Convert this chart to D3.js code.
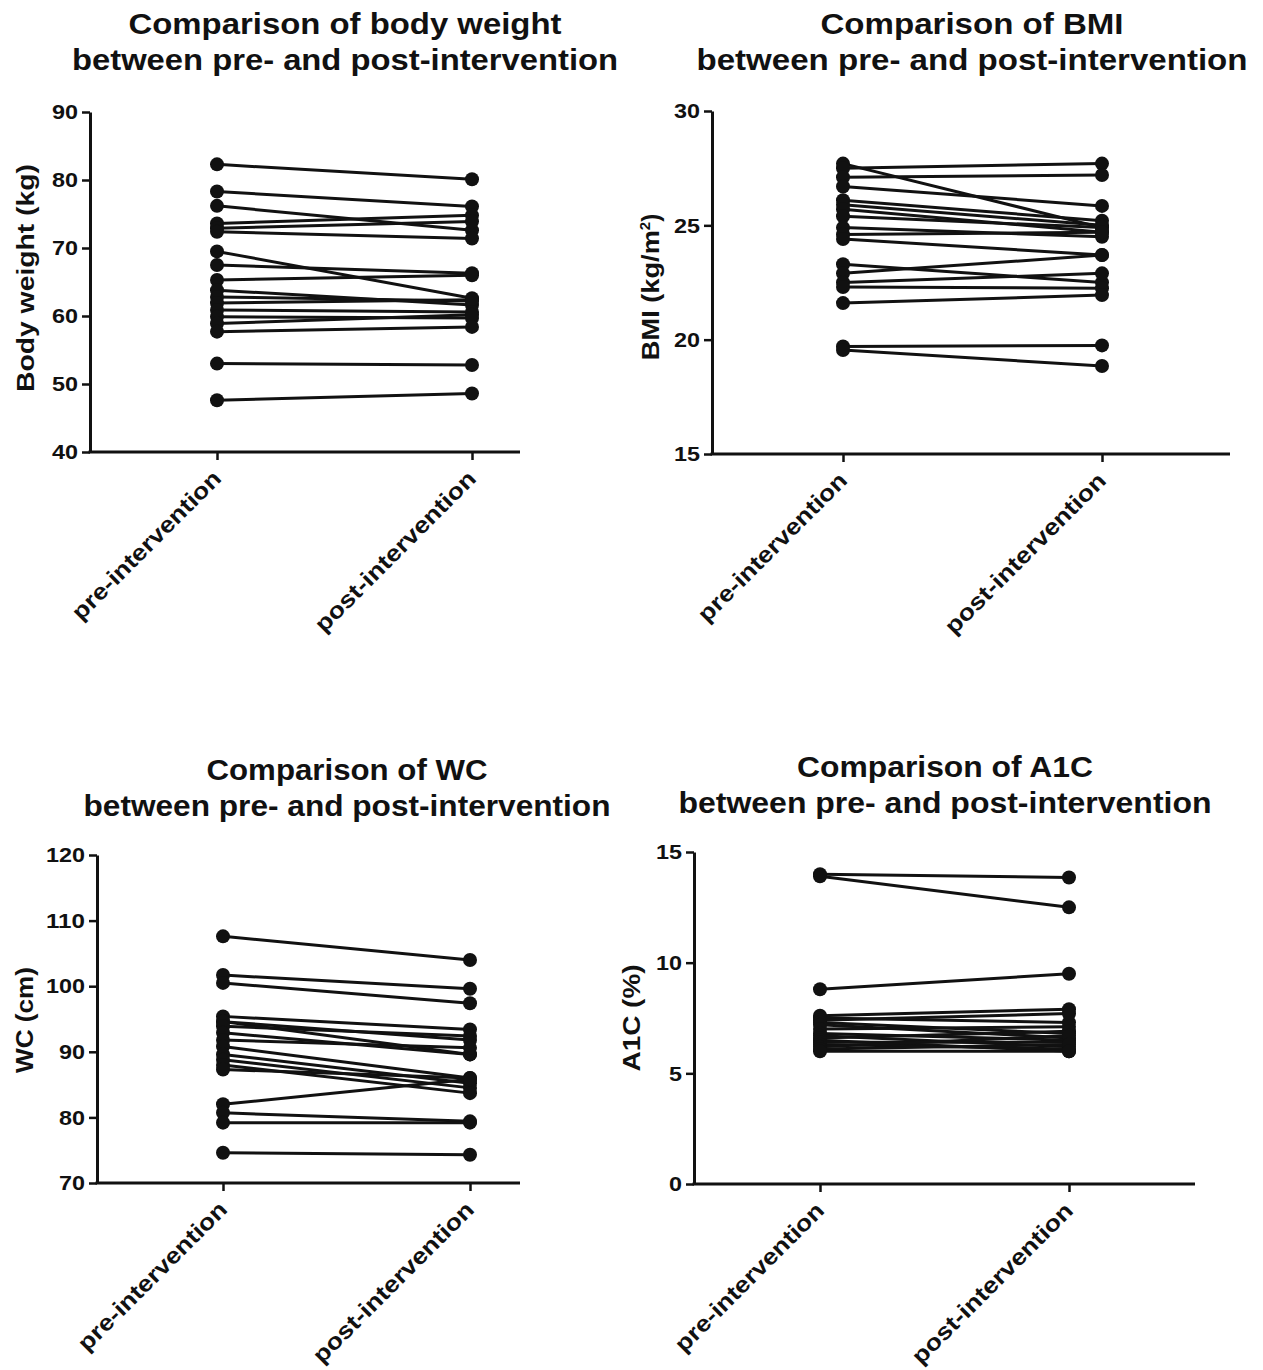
<!DOCTYPE html>
<html>
<head>
<meta charset="utf-8">
<title>Comparison between pre- and post-intervention</title>
<script src="https://cdn.jsdelivr.net/npm/d3@7"></script>
<style>
  body { margin: 0; background: #fff; }
  svg { display: block; }
  text { font-family: "Liberation Sans", Arial, sans-serif; font-weight: bold; fill: #111; }
</style>
</head>
<body>
<div id="chart"></div>
<script>
const categories = ["pre-intervention", "post-intervention"];

// body weight (kg), one entry per subject
const weightPre  = [82.3, 78.3, 76.2, 73.6, 72.9, 72.4, 69.5, 67.5, 65.3, 63.8, 62.8, 61.9, 60.9, 59.9, 58.9, 57.7, 53.0, 47.6];
const weightPost = [80.1, 76.1, 72.6, 74.8, 73.9, 71.4, 62.6, 66.3, 66.0, 61.6, 62.2, 62.4, 60.6, 59.7, 60.2, 58.4, 52.8, 48.6];
const weightTicks = [40, 50, 60, 70, 80, 90];

// BMI (kg/m2)
const bmiPre  = [27.7, 27.5, 27.1, 26.7, 26.1, 25.9, 25.7, 25.4, 24.9, 24.6, 24.4, 23.3, 22.9, 22.5, 22.3, 21.6, 19.7, 19.55];
const bmiPost = [24.9, 27.7, 27.2, 25.85, 25.2, 25.0, 24.7, 24.9, 24.5, 24.7, 23.7, 22.5, 23.7, 22.9, 22.25, 21.95, 19.75, 18.85];
const bmiTicks = [15, 20, 25, 30];

// waist circumference (cm)
const wcPre  = [107.6, 101.7, 100.5, 95.4, 94.6, 94.6, 93.9, 92.9, 91.8, 90.8, 89.6, 88.8, 88.0, 87.3, 82.0, 80.7, 79.2, 74.6];
const wcPost = [104.0, 99.6, 97.4, 93.4, 89.6, 91.8, 92.4, 89.6, 90.6, 86.0, 85.2, 84.5, 83.7, 86.0, 85.8, 79.4, 79.2, 74.3];
const wcTicks = [70, 80, 90, 100, 110, 120];

// A1C (%)
const a1cPre  = [14.0, 13.9, 8.8, 7.6, 7.5, 7.4, 7.3, 7.2, 7.0, 6.8, 6.7, 6.6, 6.5, 6.4, 6.3, 6.2, 6.1, 6.0];
const a1cPost = [13.85, 12.5, 9.5, 7.9, 7.3, 7.7, 6.8, 6.6, 7.1, 6.5, 6.2, 6.9, 6.0, 6.4, 6.1, 6.7, 6.3, 6.0];
const a1cTicks = [0, 5, 10, 15];

const width = 1263, height = 1370;

const panels = [
  { title: "Comparison of body weight", label: "Body weight (kg)", pre: weightPre, post: weightPost, ticks: weightTicks,
    axisX: 90, top: 112, bottom: 452, preX: 217, postX: 472, right: 520,
    titleX: 345, titleY: [34, 70], titleW: [433, 546], labelX: 26, labelY: 278, labelW: 228 },
  { title: "Comparison of BMI", label: "BMI (kg/m", sup: "2", pre: bmiPre, post: bmiPost, ticks: bmiTicks,
    axisX: 712, top: 111, bottom: 454, preX: 843, postX: 1102, right: 1230,
    titleX: 972, titleY: [34, 70], titleW: [303, 551], labelX: 651, labelY: 287, labelW: 130 },
  { title: "Comparison of WC", label: "WC (cm)", pre: wcPre, post: wcPost, ticks: wcTicks,
    axisX: 97, top: 855, bottom: 1183, preX: 223, postX: 470, right: 520,
    titleX: 347, titleY: [780, 816], titleW: [281, 527], labelX: 25, labelY: 1020, labelW: 106 },
  { title: "Comparison of A1C", label: "A1C (%)", pre: a1cPre, post: a1cPost, ticks: a1cTicks,
    axisX: 694, top: 852, bottom: 1184, preX: 820, postX: 1069, right: 1195,
    titleX: 945, titleY: [777, 813], titleW: [296, 533], labelX: 632, labelY: 1018, labelW: 107 }
];

const svg = d3.select("#chart").append("svg")
    .attr("width", width)
    .attr("height", height);

panels.forEach(p => {
    const g = svg.append("g");

    const y = d3.scaleLinear()
        .domain(d3.extent(p.ticks))
        .range([p.bottom, p.top]);
    const x = d3.scalePoint()
        .domain(categories)
        .range([p.preX, p.postX]);

    // titles
    [p.title, "between pre- and post-intervention"].forEach((t, i) => {
        g.append("text")
            .attr("x", p.titleX)
            .attr("y", p.titleY[i])
            .attr("text-anchor", "middle")
            .attr("font-size", 29)
            .attr("textLength", p.titleW[i])
            .attr("lengthAdjust", "spacingAndGlyphs")
            .text(t);
    });

    // y axis
    const yAxis = g.append("g")
        .attr("transform", `translate(${p.axisX},0)`)
        .call(d3.axisLeft(y).tickValues(p.ticks).tickSize(8).tickSizeOuter(0).tickPadding(4));
    yAxis.select(".domain").attr("stroke", "#111").attr("stroke-width", 3);
    yAxis.selectAll(".tick line").attr("stroke", "#111").attr("stroke-width", 2.5);
    yAxis.selectAll(".tick text")
        .attr("font-size", 21)
        .attr("font-family", "Liberation Sans, Arial, sans-serif")
        .attr("font-weight", "bold")
        .attr("fill", "#111")
        .attr("textLength", d => String(d).length * 13)
        .attr("lengthAdjust", "spacingAndGlyphs");

    // x axis
    const xAxis = g.append("g")
        .attr("transform", `translate(0,${p.bottom})`)
        .call(d3.axisBottom(x).tickSize(8).tickFormat(""));
    xAxis.select(".domain").remove();
    xAxis.selectAll(".tick line").attr("stroke", "#111").attr("stroke-width", 2.5);
    xAxis.append("line")
        .attr("x1", p.axisX - 1.5)
        .attr("x2", p.right)
        .attr("stroke", "#111")
        .attr("stroke-width", 3);

    xAxis.selectAll(".tick").append("text")
        .attr("text-anchor", "end")
        .attr("transform", "translate(5,28) rotate(-45)")
        .attr("font-size", 23)
        .attr("font-family", "Liberation Sans, Arial, sans-serif")
        .attr("font-weight", "bold")
        .attr("fill", "#111")
        .attr("textLength", d => d === categories[0] ? 200 : 217)
        .attr("lengthAdjust", "spacingAndGlyphs")
        .text(d => d);

    // y label
    const lab = g.append("text")
        .attr("transform", `translate(${p.labelX},${p.labelY}) rotate(-90)`)
        .attr("text-anchor", "middle")
        .attr("dy", "0.35em")
        .attr("font-size", 24);
    if (p.sup) {
        lab.append("tspan").attr("textLength", p.labelW).attr("lengthAdjust", "spacingAndGlyphs").text(p.label);
        lab.append("tspan").attr("dy", -9).attr("font-size", 15).text(p.sup);
        lab.append("tspan").attr("dy", 9).text(")");
    } else {
        lab.attr("textLength", p.labelW).attr("lengthAdjust", "spacingAndGlyphs").text(p.label);
    }

    // paired lines and points
    const pairs = p.pre.map((v, i) => [v, p.post[i]]);
    const line = d3.line()
        .x((d, i) => x(categories[i]))
        .y(d => y(d));

    g.append("g")
        .selectAll("path")
        .data(pairs)
        .join("path")
        .attr("d", d => line(d))
        .attr("fill", "none")
        .attr("stroke", "#111")
        .attr("stroke-width", 3);

    g.append("g")
        .selectAll("circle")
        .data(pairs.flatMap(d => d.map((v, i) => ({ cat: categories[i], v }))))
        .join("circle")
        .attr("cx", d => x(d.cat))
        .attr("cy", d => y(d.v))
        .attr("r", 7)
        .attr("fill", "#111");
});
</script>
</body>
</html>
